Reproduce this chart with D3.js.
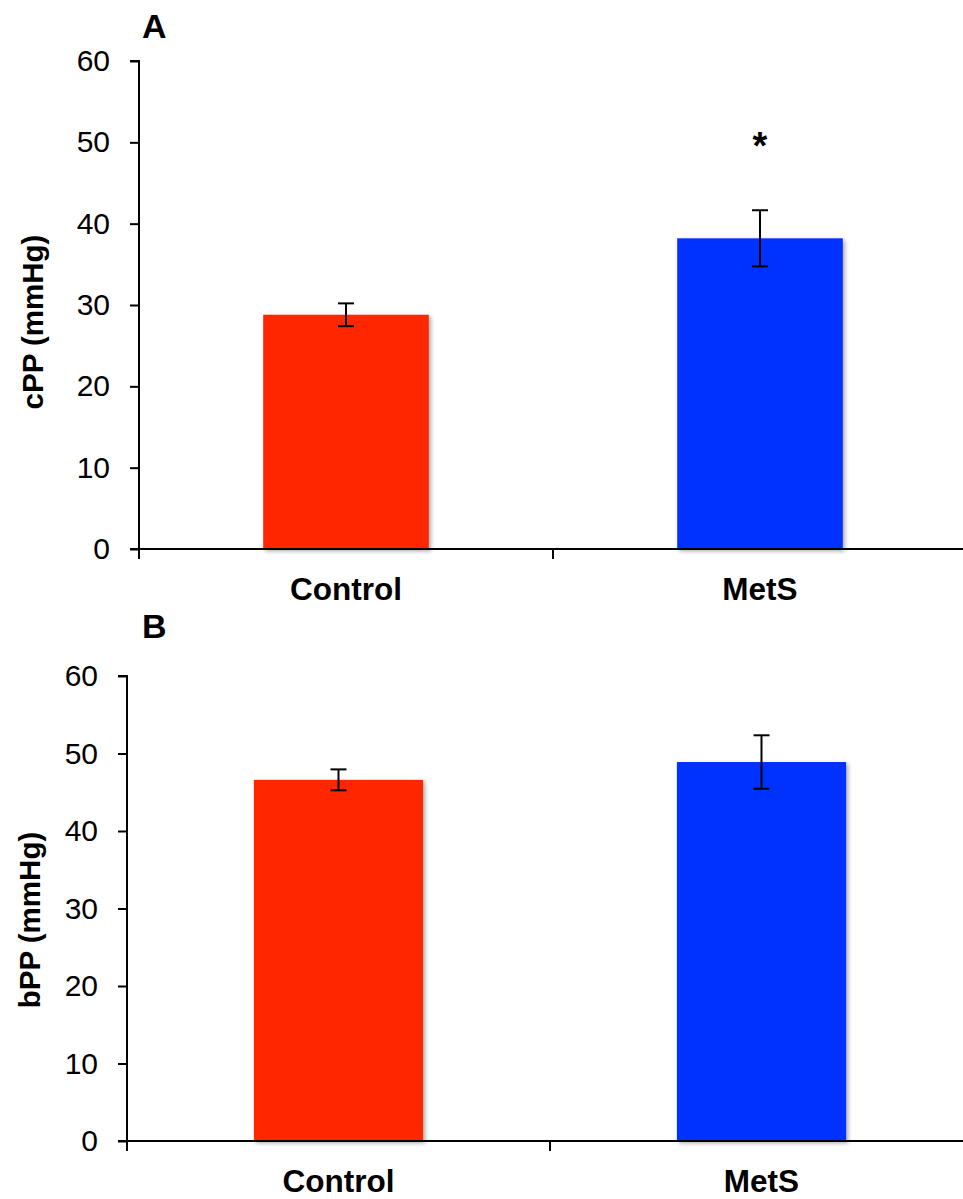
<!DOCTYPE html>
<html>
<head>
<meta charset="utf-8">
<script src="https://cdn.jsdelivr.net/npm/d3@7"></script>
<style>
  html, body { margin: 0; padding: 0; background: #fff; }
  svg { display: block; font-family: "Liberation Sans", Arial, sans-serif; }
</style>
</head>
<body>
<svg id="chart" width="963" height="1199"></svg>
<script>
// ---- data ----
const categories = ["Control", "MetS"];
const barColors = ["#FF2600", "#0433FF"];
const yTicks = [0, 10, 20, 30, 40, 50, 60];

const cppMeans = [28.8, 38.2];
const cppErrors = [1.4, 3.45];
const cppSignificance = ["", "*"];

const bppMeans = [46.6, 48.9];
const bppErrors = [1.35, 3.45];
const bppSignificance = ["", ""];

// ---- layout ----
const panels = [
  { label: "A", title: "cPP (mmHg)", means: cppMeans, errors: cppErrors, sig: cppSignificance,
    left: 139, right: 967, top: 61, bottom: 549, titleX: 43, titleY: 322, labelY: 38, tickGap: 20 },
  { label: "B", title: "bPP (mmHg)", means: bppMeans, errors: bppErrors, sig: bppSignificance,
    left: 127, right: 973, top: 676, bottom: 1141, titleX: 40, titleY: 920, labelY: 638, tickGap: 20 }
];

const svg = d3.select("#chart");
const defs = svg.append("defs");
const f = defs.append("filter").attr("id", "shadow")
  .attr("x", "-10%").attr("y", "-10%").attr("width", "130%").attr("height", "130%");
f.append("feDropShadow").attr("dx", 2).attr("dy", 2).attr("stdDeviation", 2)
  .attr("flood-color", "#000").attr("flood-opacity", 0.35);

panels.forEach(p => {
  const g = svg.append("g");
  const x = d3.scaleBand().domain(categories).range([p.left, p.right]).padding(0);
  const y = d3.scaleLinear().domain([0, 60]).range([p.bottom, p.top]);
  const barW = x.bandwidth() * 0.4;

  // bars
  g.selectAll("rect.bar").data(categories).join("rect")
    .attr("class", "bar")
    .attr("x", d => x(d) + x.bandwidth() / 2 - barW / 2)
    .attr("width", barW)
    .attr("y", (d, i) => y(p.means[i]))
    .attr("height", (d, i) => y(0) - y(p.means[i]))
    .attr("fill", (d, i) => barColors[i])
    .attr("filter", "url(#shadow)");

  // error bars
  const eb = g.selectAll("g.err").data(categories).join("g").attr("class", "err")
    .attr("stroke", "#000").attr("stroke-width", 2);
  eb.append("line")
    .attr("x1", d => x(d) + x.bandwidth() / 2).attr("x2", d => x(d) + x.bandwidth() / 2)
    .attr("y1", (d, i) => y(p.means[i] + p.errors[i]))
    .attr("y2", (d, i) => y(p.means[i] - p.errors[i]));
  [1, -1].forEach(s => {
    eb.append("line")
      .attr("x1", d => x(d) + x.bandwidth() / 2 - 8).attr("x2", d => x(d) + x.bandwidth() / 2 + 8)
      .attr("y1", (d, i) => y(p.means[i] + s * p.errors[i]))
      .attr("y2", (d, i) => y(p.means[i] + s * p.errors[i]));
  });

  // significance
  g.selectAll("text.sig").data(categories).join("text")
    .attr("class", "sig")
    .attr("x", d => x(d) + x.bandwidth() / 2)
    .attr("y", (d, i) => y(p.means[i] + p.errors[i]) - 51)
    .attr("text-anchor", "middle")
    .attr("font-size", 38).attr("font-weight", "bold")
    .text((d, i) => p.sig[i]);

  // y axis
  const yAxis = d3.axisLeft(y).tickValues(yTicks).tickSize(9).tickPadding(p.tickGap);
  const ya = g.append("g").attr("transform", `translate(${p.left},0)`).call(yAxis);
  ya.select(".domain").attr("stroke-width", 2).attr("d", `M-9,${p.top}H0V${p.bottom}`);
  ya.selectAll(".tick line").attr("stroke-width", 2);
  ya.selectAll(".tick text").attr("font-size", 30).attr("fill", "#000")
    .attr("font-family", "'Liberation Sans', Arial, sans-serif");

  // x axis
  const xa = g.append("g").attr("transform", `translate(0,${p.bottom})`);
  xa.append("line").attr("x1", p.left - 9).attr("x2", p.right)
    .attr("stroke", "#000").attr("stroke-width", 2);
  const boundaries = [p.left, ...categories.slice(1).map(c => x(c))];
  xa.selectAll("line.xt").data(boundaries).join("line").attr("class", "xt")
    .attr("x1", d => d).attr("x2", d => d).attr("y1", 0).attr("y2", 10)
    .attr("stroke", "#000").attr("stroke-width", 2);
  xa.selectAll("text").data(categories).join("text")
    .attr("x", d => x(d) + x.bandwidth() / 2)
    .attr("y", 51)
    .attr("text-anchor", "middle")
    .attr("font-size", 31.5).attr("font-weight", "bold")
    .text(d => d);

  // y title
  g.append("text")
    .attr("transform", `translate(${p.titleX},${p.titleY}) rotate(-90)`)
    .attr("text-anchor", "middle")
    .attr("font-size", 29.5).attr("font-weight", "bold")
    .text(p.title);

  // panel label
  g.append("text").attr("x", 142).attr("y", p.labelY)
    .attr("font-size", 34).attr("font-weight", "bold")
    .text(p.label);
});
</script>
</body>
</html>
